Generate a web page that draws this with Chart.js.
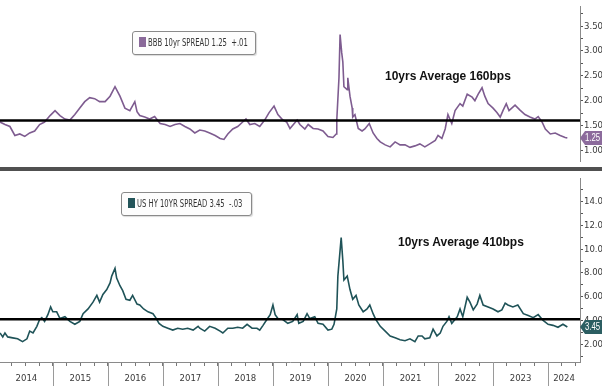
<!DOCTYPE html>
<html>
<head>
<meta charset="utf-8">
<script src="https://cdn.jsdelivr.net/npm/chart.js@4.4.1/dist/chart.umd.min.js"></script>
<style>
body { margin:0; background:#fff; width:602px; height:386px; overflow:hidden; position:relative; font-family:"Liberation Sans Narrow", "DejaVu Sans Condensed", sans-serif; }
#topWrap { position:absolute; left:0; top:0; width:602px; height:168px; }
#botWrap { position:absolute; left:0; top:172px; width:602px; height:214px; }
.divider { position:absolute; left:0; top:167px; width:602px; height:4px; background:#505050; }
.legend { position:absolute; box-sizing:border-box; height:24px; border:1px solid #8a8a8a; border-radius:3px; background:#fdfdfd; box-shadow:1px 1px 1px rgba(0,0,0,0.15); font-size:10px; color:#333; line-height:22px; padding-left:6px; white-space:nowrap; overflow:hidden; }
.legend i { display:inline-block; width:7px; height:10px; vertical-align:-1px; margin-right:2px; }
.legend span { display:inline-block; transform:scaleX(0.76); transform-origin:left center; }
.note { position:absolute; font:bold 12px "Liberation Sans", sans-serif; color:#111; white-space:nowrap; }
</style>
</head>
<body>

<div id="topWrap"><canvas id="bbbChart"></canvas></div>
<div id="botWrap"><canvas id="hyChart"></canvas></div>
<div class="divider"></div>

<div class="legend" style="left:132px; top:31px; width:124px;"><i style="background:#8a6a9a"></i><span>BBB 10yr SPREAD 1.25&nbsp;&nbsp;+.01</span></div>
<div class="legend" style="left:121px; top:192px; width:131px;"><i style="background:#24555a"></i><span>US HY 10YR SPREAD 3.45&nbsp;&nbsp;-.03</span></div>

<div class="note" style="left:385px; top:69px;">10yrs Average 160bps</div>
<div class="note" style="left:398px; top:235px;">10yrs Average 410bps</div>

<script>
// ---------------- Data ----------------

const bbbDates = [
    2014.04, 2014.13, 2014.22, 2014.31, 2014.40, 2014.49, 2014.58, 2014.67, 2014.76, 2014.85, 2014.95,
    2015.04, 2015.13, 2015.22, 2015.31, 2015.40, 2015.49, 2015.58, 2015.67, 2015.76, 2015.85, 2015.95,
    2016.04, 2016.13, 2016.22, 2016.31, 2016.40, 2016.49, 2016.53, 2016.58, 2016.67, 2016.76, 2016.85, 2016.95,
    2017.04, 2017.13, 2017.22, 2017.31, 2017.40, 2017.49, 2017.58, 2017.67, 2017.76, 2017.85, 2017.95,
    2018.04, 2018.11, 2018.18, 2018.27, 2018.36, 2018.45, 2018.51, 2018.58, 2018.67, 2018.76, 2018.85, 2018.93,
    2019.02, 2019.09, 2019.18, 2019.25, 2019.31, 2019.44, 2019.49, 2019.58, 2019.64, 2019.73, 2019.82, 2019.91,
    2020.00, 2020.09, 2020.15, 2020.16, 2020.20, 2020.22, 2020.25, 2020.27, 2020.29, 2020.35, 2020.36, 2020.40,
    2020.44, 2020.45, 2020.49, 2020.55, 2020.62, 2020.67, 2020.75, 2020.82, 2020.89, 2020.95,
    2021.04, 2021.13, 2021.22, 2021.31, 2021.40, 2021.49, 2021.58, 2021.67, 2021.76, 2021.85, 2021.95,
    2022.00, 2022.07, 2022.13, 2022.18, 2022.25, 2022.31, 2022.40, 2022.45, 2022.53, 2022.62, 2022.67,
    2022.73, 2022.80, 2022.85, 2022.91,
    2023.00, 2023.07, 2023.13, 2023.18, 2023.24, 2023.29, 2023.40, 2023.49, 2023.58, 2023.67, 2023.76,
    2023.82, 2023.89, 2023.95,
    2024.04, 2024.13, 2024.22, 2024.31, 2024.35
];

const bbbValues = [
    1.57, 1.52, 1.48, 1.30, 1.33, 1.28, 1.35, 1.39, 1.52, 1.57, 1.70,
    1.80, 1.70, 1.63, 1.61, 1.72, 1.85, 1.98, 2.06, 2.04, 1.98, 1.98,
    2.09, 2.28, 2.09, 1.85, 1.80, 1.98, 1.78, 1.70, 1.67, 1.63, 1.68, 1.54,
    1.52, 1.48, 1.52, 1.54, 1.48, 1.43, 1.35, 1.41, 1.39, 1.35, 1.30,
    1.24, 1.22, 1.33, 1.43, 1.48, 1.57, 1.63, 1.52, 1.54, 1.48, 1.61, 1.76,
    1.89, 1.72, 1.61, 1.57, 1.44, 1.61, 1.52, 1.43, 1.52, 1.44, 1.43, 1.39,
    1.28, 1.26, 1.33, 1.61, 2.46, 3.33, 2.96, 2.78, 2.28, 2.22, 2.46, 2.09,
    1.85, 1.67, 1.72, 1.44, 1.39, 1.43, 1.54, 1.35, 1.24, 1.17,
    1.11, 1.07, 1.17, 1.11, 1.11, 1.06, 1.09, 1.13, 1.07, 1.13, 1.20,
    1.30, 1.24, 1.43, 1.72, 1.54, 1.80, 1.94, 1.89, 2.13, 2.07, 2.00,
    2.13, 2.26, 2.09, 1.94,
    1.85, 1.76, 1.67, 1.80, 1.94, 1.80, 1.91, 1.81, 1.72, 1.67, 1.63,
    1.68, 1.57, 1.43,
    1.33, 1.35, 1.30, 1.26, 1.25
];

const hyDates = [
    2014.04, 2014.09, 2014.13, 2014.18, 2014.27, 2014.36, 2014.45, 2014.53, 2014.58, 2014.64, 2014.71,
    2014.76, 2014.80, 2014.85, 2014.91, 2014.96,
    2015.00, 2015.07, 2015.13, 2015.22, 2015.31, 2015.40, 2015.49, 2015.55, 2015.64, 2015.73, 2015.80,
    2015.85, 2015.91, 2015.98,
    2016.04, 2016.07, 2016.13, 2016.16, 2016.22, 2016.27, 2016.33, 2016.40, 2016.45, 2016.53, 2016.58,
    2016.65, 2016.73, 2016.82, 2016.87, 2016.93,
    2017.00, 2017.09, 2017.18, 2017.27, 2017.36, 2017.45, 2017.55, 2017.64, 2017.67, 2017.76, 2017.85, 2017.95,
    2018.04, 2018.09, 2018.18, 2018.27, 2018.36, 2018.45, 2018.53, 2018.62, 2018.71, 2018.76, 2018.82,
    2018.89, 2018.95,
    2019.00, 2019.04, 2019.09, 2019.18, 2019.27, 2019.36, 2019.44, 2019.47, 2019.55, 2019.62, 2019.67,
    2019.76, 2019.82, 2019.91,
    2020.00, 2020.07, 2020.11, 2020.16, 2020.18, 2020.24, 2020.27, 2020.29, 2020.35, 2020.40, 2020.45,
    2020.51, 2020.56, 2020.64, 2020.71, 2020.76, 2020.82, 2020.87, 2020.95,
    2021.04, 2021.13, 2021.22, 2021.31, 2021.40, 2021.49, 2021.58, 2021.64, 2021.71, 2021.76, 2021.85,
    2021.91, 2021.98,
    2022.04, 2022.09, 2022.16, 2022.20, 2022.25, 2022.35, 2022.40, 2022.45, 2022.53, 2022.58, 2022.64,
    2022.71, 2022.76, 2022.82, 2022.91,
    2023.00, 2023.09, 2023.16, 2023.22, 2023.27, 2023.36, 2023.45, 2023.55, 2023.64, 2023.73, 2023.82, 2023.91,
    2024.00, 2024.09, 2024.18, 2024.27, 2024.35
];

const hyValues = [
    2.95, 2.62, 2.95, 2.62, 2.54, 2.46, 2.22, 2.46, 3.11, 2.95, 3.51,
    4.08, 4.24, 3.92, 4.49, 5.14,
    4.73, 4.73, 4.16, 4.32, 3.92, 3.68, 3.92, 4.57, 4.97, 5.54, 6.11,
    5.54, 6.19, 6.60,
    7.16, 7.73, 8.38, 7.57, 6.92, 6.51, 5.78, 5.70, 6.11, 5.38, 5.30,
    4.97, 4.73, 4.57, 4.24, 3.76,
    3.51, 3.35, 3.19, 3.35, 3.27, 3.35, 3.19, 3.51, 3.35, 3.11, 3.51, 3.35,
    3.11, 2.95, 3.35, 3.35, 3.43, 3.35, 3.68, 3.35, 3.35, 3.19, 3.59,
    4.08, 4.49,
    5.30, 4.49, 4.16, 4.08, 3.76, 3.92, 4.49, 3.76, 3.92, 4.57, 4.16,
    4.32, 3.76, 3.68,
    3.19, 3.27, 3.68, 4.97, 7.73, 10.97, 9.03, 7.41, 7.73, 6.60, 5.78,
    6.11, 5.30, 4.73, 4.97, 5.30, 4.57, 4.08, 3.51,
    3.11, 2.70, 2.54, 2.38, 2.30, 2.46, 2.22, 2.70, 2.70, 2.46, 2.54,
    3.27, 2.70,
    2.95, 3.51, 3.92, 4.32, 3.76, 4.32, 4.97, 4.32, 5.95, 5.54, 4.89,
    5.38, 6.11, 5.30, 5.14,
    4.97, 4.73, 4.89, 5.46, 5.30, 5.14, 5.30, 4.57, 4.41, 4.24, 4.49, 4.00,
    3.68, 3.59, 3.43, 3.68, 3.45
];

const bbbAverage = 1.60;
const hyAverage = 4.10;

// visible date window
const xMin = 2014.04;
const xMax = 2024.58;

const bbbTickValues = [1.00, 1.25, 1.50, 1.75, 2.00, 2.25, 2.50, 2.75, 3.00, 3.25, 3.50, 3.75];
const hyTickValues = [1, 2, 3, 4, 5, 6, 7, 8, 9, 10, 11, 12, 13, 14, 15];
const yearLabels = ["2014", "2015", "2016", "2017", "2018", "2019", "2020", "2021", "2022", "2023", "2024"];

const tickFont = { family: '"Liberation Sans Narrow", "DejaVu Sans Condensed", sans-serif', size: 9.5 };
const tickColor = "#3a3a3a";

// ---------------- helpers ----------------

function toPoints(dates, values) {
    return dates.map((d, i) => ({ x: d, y: values[i] }));
}

function averageLine(value) {
    return [{ x: xMin, y: value }, { x: xMax, y: value }];
}

// label sits in the middle of the visible part of each year
const yearLabelPos = yearLabels.map(y => {
    const a = Math.max(+y, xMin);
    const b = Math.min(+y + 1, xMax);
    return (a + b) / 2;
});

const quarterTicks = [];
for (let q = 2014.25; q < xMax; q += 0.25) {
    quarterTicks.push(Math.round(q * 100) / 100);
}

function isLabelTick(v) {
    return yearLabelPos.findIndex(p => Math.abs(p - v) < 0.001);
}

function isQuarter(v) {
    return quarterTicks.some(q => Math.abs(q - v) < 0.001);
}

// value box on the right axis
function valueBox(color, text) {
    return {
        id: "valueBox",
        afterDraw(chart) {
            const ds = chart.data.datasets[1].data;
            const last = ds[ds.length - 1].y;
            const y = chart.scales.y.getPixelForValue(last);
            const ctx = chart.ctx;
            ctx.save();
            ctx.fillStyle = color;
            ctx.beginPath();
            ctx.moveTo(580, y);
            ctx.lineTo(585, y - 7);
            ctx.lineTo(602, y - 7);
            ctx.lineTo(602, y + 7);
            ctx.lineTo(585, y + 7);
            ctx.closePath();
            ctx.fill();
            ctx.fillStyle = "#fff";
            ctx.font = '10px "Liberation Sans", sans-serif';
            ctx.textBaseline = "middle";
            ctx.translate(585, y + 0.5);
            ctx.scale(0.78, 1);
            ctx.fillText(text, 0, 0);
            ctx.restore();
        }
    };
}

const yearSeparators = {
    id: "yearSeparators",
    afterDraw(chart) {
        const ctx = chart.ctx;
        const x = chart.scales.x;
        ctx.save();
        ctx.strokeStyle = "#9a9a9a";
        ctx.lineWidth = 1;
        yearLabels.slice(1).forEach(y => {
            const px = Math.round(x.getPixelForValue(+y)) + 0.5;
            ctx.beginPath();
            ctx.moveTo(px, chart.chartArea.bottom);
            ctx.lineTo(px, chart.height);
            ctx.stroke();
        });
        ctx.restore();
    }
};

function rightAxis(min, max, tickValues, isMajor) {
    return {
        position: "right",
        min: min,
        max: max,
        afterBuildTicks: s => { s.ticks = tickValues.map(v => ({ value: v })); },
        afterFit: s => { s.width = 22; },
        ticks: {
            font: tickFont,
            color: tickColor,
            padding: 1,
            autoSkip: false,
            callback: v => isMajor(v) ? v.toFixed(2) : ""
        },
        grid: {
            drawOnChartArea: false,
            tickLength: 3,
            tickColor: "#555"
        },
        border: { color: "#8a8a8a" }
    };
}

// ---------------- BBB chart ----------------

new Chart(document.getElementById("bbbChart"), {
    type: "line",
    data: {
        datasets: [
            {
                data: averageLine(bbbAverage),
                borderColor: "#000",
                borderWidth: 2.5,
                pointRadius: 0
            },
            {
                data: toPoints(bbbDates, bbbValues),
                borderColor: "#7e5c90",
                borderWidth: 1.6,
                pointRadius: 0,
                tension: 0
            }
        ]
    },
    options: {
        responsive: true,
        maintainAspectRatio: false,
        animation: false,
        layout: { padding: 0 },
        plugins: { legend: { display: false }, tooltip: { enabled: false } },
        scales: {
            x: { type: "linear", min: xMin, max: xMax, display: false },
            y: rightAxis(0.78, 3.89, bbbTickValues, v => Math.abs(v * 2 - Math.round(v * 2)) < 1e-6)
        }
    },
    plugins: [valueBox("#8c6b9c", "1.25")]
});

// ---------------- US HY chart ----------------

new Chart(document.getElementById("hyChart"), {
    type: "line",
    data: {
        datasets: [
            {
                data: averageLine(hyAverage),
                borderColor: "#000",
                borderWidth: 2.5,
                pointRadius: 0
            },
            {
                data: toPoints(hyDates, hyValues),
                borderColor: "#1f5358",
                borderWidth: 1.6,
                pointRadius: 0,
                tension: 0
            }
        ]
    },
    options: {
        responsive: true,
        maintainAspectRatio: false,
        animation: false,
        layout: { padding: 0 },
        plugins: { legend: { display: false }, tooltip: { enabled: false } },
        scales: {
            x: {
                type: "linear",
                min: xMin,
                max: xMax,
                afterBuildTicks: s => {
                    const vals = quarterTicks.concat(yearLabelPos.filter(p => !isQuarter(p)));
                    vals.sort((a, b) => a - b);
                    s.ticks = vals.map(v => ({ value: v }));
                },
                afterFit: s => { s.height = 24; },
                ticks: {
                    font: tickFont,
                    color: tickColor,
                    padding: 7,
                    autoSkip: false,
                    maxRotation: 0,
                    callback: v => {
                        const i = isLabelTick(v);
                        return i >= 0 ? yearLabels[i] : "";
                    }
                },
                grid: {
                    drawOnChartArea: false,
                    tickLength: 4,
                    tickColor: c => (c.tick && isQuarter(c.tick.value)) ? "#777" : "rgba(0,0,0,0)"
                },
                border: { color: "#8a8a8a" }
            },
            y: rightAxis(0.51, 15.92, hyTickValues, v => v % 2 === 0)
        }
    },
    plugins: [yearSeparators, valueBox("#2c5e62", "3.45")]
});
</script>
</body>
</html>
